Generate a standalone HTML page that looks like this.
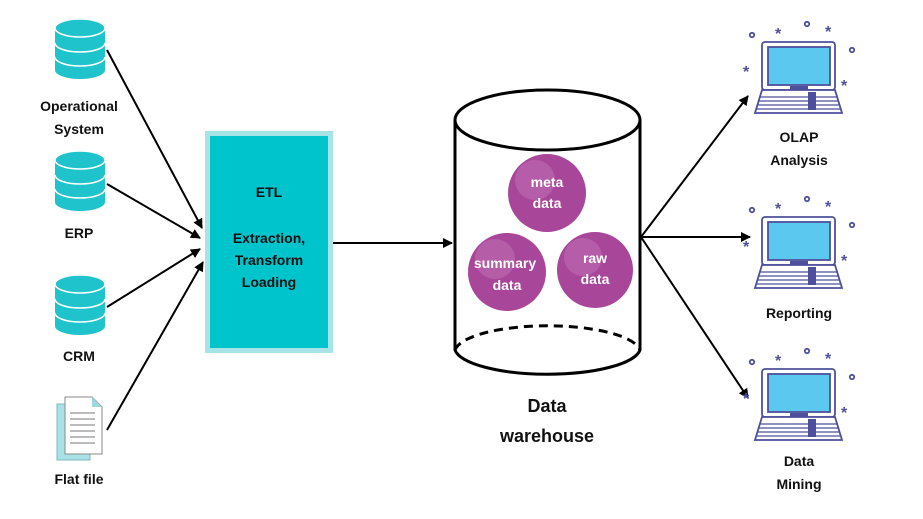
<!DOCTYPE html>
<html><head><style>
html,body{margin:0;padding:0;background:#fff;}
svg{display:block;font-family:"Liberation Sans",sans-serif;font-weight:bold;}
</style></head><body>
<svg width="923" height="519" viewBox="0 0 923 519" xmlns="http://www.w3.org/2000/svg">
<defs>
<marker id="ah" markerWidth="10" markerHeight="10" refX="9" refY="5" orient="auto" markerUnits="userSpaceOnUse">
<path d="M0,0 L10,5 L0,10 z" fill="#000"/></marker>
<g id="db">
<path d="M0,10 L0,52 A25,9 0 0 0 50,52 L50,10" fill="#1ec3cc"/>
<ellipse cx="25" cy="10" rx="25" ry="9" fill="#1ec3cc" stroke="#fff" stroke-width="1.5"/>
<path d="M0,25 A25,9 0 0 0 50,25 M0,39 A25,9 0 0 0 50,39" fill="none" stroke="#fff" stroke-width="1.5"/>
</g>
<g id="lap" fill="none" stroke="#4e4f9c" stroke-width="1.8">
<rect x="762" y="42" width="73" height="48" rx="3" fill="#fff"/>
<rect x="768" y="47" width="62" height="38" fill="#5bc8f0" stroke="#4e4f9c"/>
<path d="M762,90 L755,113 L842,113 L835,90 z" fill="#fff"/>
<path d="M760,97 L837,97 M759,101 L838,101 M758,105 L839,105 M757,109 L840,109" stroke-width="1.2"/>
<rect x="808" y="92" width="8" height="18" fill="#4e4f9c" stroke="none"/>
<rect x="790" y="86" width="18" height="4" fill="#4e4f9c" stroke="none"/>
<circle cx="752" cy="35" r="2.2"/><circle cx="807" cy="24" r="2.2"/><circle cx="852" cy="50" r="2.2"/>
<text x="775" y="39" font-size="16" fill="#4e4f9c" stroke="none">*</text>
<text x="825" y="37" font-size="16" fill="#4e4f9c" stroke="none">*</text>
<text x="743" y="77" font-size="16" fill="#4e4f9c" stroke="none">*</text>
<text x="841" y="91" font-size="16" fill="#4e4f9c" stroke="none">*</text>
</g>
</defs>

<use href="#db" x="55" y="18"/>
<use href="#db" x="55" y="150"/>
<use href="#db" x="55" y="274"/>

<path d="M57,404 L90,404 L90,460 L57,460 z" fill="#a8e2e6" stroke="#7fb7bd" stroke-width="1"/>
<path d="M65,397 L92,397 L102,407 L102,454 L65,454 z" fill="#fff" stroke="#8a8a8a" stroke-width="1"/>
<path d="M92,397 L92,407 L102,407 z" fill="#9ed8de"/>
<path d="M70,413 L95,413 M70,419 L95,419 M70,425 L95,425 M70,431 L95,431 M70,437 L95,437 M70,443 L95,443" stroke="#777" stroke-width="1"/>

<g font-size="14" fill="#111" text-anchor="middle">
<text x="79" y="111">Operational</text>
<text x="79" y="134">System</text>
<text x="79" y="238">ERP</text>
<text x="79" y="361">CRM</text>
<text x="79" y="484">Flat file</text>
</g>

<g stroke="#000" stroke-width="2" marker-end="url(#ah)">
<line x1="107" y1="50" x2="202" y2="228"/>
<line x1="107" y1="184" x2="200" y2="238"/>
<line x1="107" y1="307" x2="200" y2="249"/>
<line x1="107" y1="430" x2="203" y2="262"/>
<line x1="333" y1="243" x2="452" y2="243"/>
<line x1="641" y1="237" x2="748" y2="96"/>
<line x1="641" y1="237" x2="750" y2="237"/>
<line x1="641" y1="237" x2="748" y2="398"/>
</g>

<rect x="207.5" y="133.5" width="123" height="217" fill="#00c4cc" stroke="#a6e4e8" stroke-width="5"/>
<g font-size="14" fill="#111" text-anchor="middle">
<text x="269" y="197">ETL</text>
<text x="269" y="243">Extraction,</text>
<text x="269" y="265">Transform</text>
<text x="269" y="287">Loading</text>
</g>

<path d="M455,120 L455,350 A93,27 0 0 0 640,350 L640,120" fill="#fff" stroke="#000" stroke-width="3"/>
<ellipse cx="547.5" cy="120" rx="92.5" ry="30" fill="#fff" stroke="#000" stroke-width="3"/>
<path d="M455,350 A93,27 0 0 1 640,350" fill="none" stroke="#000" stroke-width="3" stroke-dasharray="9,6"/>

<g fill="#a8479a">
<circle cx="547" cy="193" r="39"/>
<circle cx="507" cy="272" r="39"/>
<circle cx="595" cy="270" r="38"/>
</g>
<g fill="#c06db3" opacity="0.6">
<circle cx="535" cy="180" r="20"/><circle cx="495" cy="259" r="20"/><circle cx="583" cy="257" r="19"/>
</g>
<g font-size="14" fill="#fff" text-anchor="middle">
<text x="547" y="187">meta</text><text x="547" y="208">data</text>
<text x="505" y="268">summary</text><text x="507" y="290">data</text>
<text x="595" y="263">raw</text><text x="595" y="284">data</text>
</g>
<g font-size="18" fill="#111" text-anchor="middle">
<text x="547" y="412">Data</text>
<text x="547" y="442">warehouse</text>
</g>

<use href="#lap"/>
<use href="#lap" y="175"/>
<use href="#lap" y="327"/>
<g font-size="14" fill="#111" text-anchor="middle">
<text x="799" y="142">OLAP</text>
<text x="799" y="165">Analysis</text>
<text x="799" y="318">Reporting</text>
<text x="799" y="466">Data</text>
<text x="799" y="489">Mining</text>
</g>
</svg>
</body></html>
